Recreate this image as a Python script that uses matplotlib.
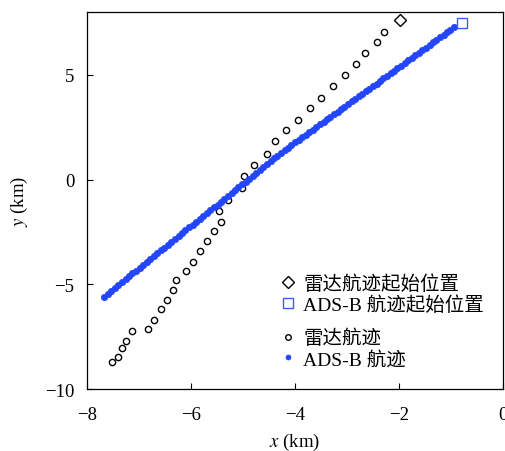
import matplotlib
matplotlib.use('Agg')
import matplotlib.pyplot as plt
from matplotlib.lines import Line2D

plt.rcParams['font.family'] = ['Liberation Serif', 'Noto Sans CJK SC']
plt.rcParams['mathtext.fontset'] = 'stix'
plt.rcParams['axes.unicode_minus'] = True

# radar track (km)
radar_x = [-7.52, -7.40, -7.32, -7.25, -7.13, -6.82, -6.71, -6.58, -6.46, -6.35,
           -6.28, -6.10, -5.97, -5.83, -5.70, -5.56, -5.43, -5.47, -5.28, -5.02,
           -4.98, -4.78, -4.53, -4.38, -4.17, -3.94, -3.72, -3.50, -3.27, -3.03,
           -2.83, -2.65, -2.42, -2.29]
radar_y = [-8.73, -8.46, -8.06, -7.70, -7.25, -7.14, -6.70, -6.19, -5.75, -5.29,
           -4.80, -4.38, -3.93, -3.41, -2.95, -2.44, -2.00, -1.51, -0.95, -0.40,
           0.19, 0.68, 1.24, 1.86, 2.35, 2.86, 3.40, 3.92, 4.48, 4.98,
           5.50, 6.05, 6.56, 7.05]
radar_start = (-1.99, 7.60)

# ADS-B track (km)
ads_x = [-7.67, -7.60, -7.53, -7.47, -7.40, -7.33, -7.26, -7.19, -7.13, -7.06,
         -6.99, -6.92, -6.85, -6.79, -6.72, -6.65, -6.58, -6.51, -6.45, -6.38,
         -6.31, -6.24, -6.17, -6.11, -6.04, -5.97, -5.90, -5.83, -5.77, -5.70,
         -5.63, -5.56, -5.49, -5.43, -5.36, -5.29, -5.22, -5.15, -5.09, -5.02,
         -4.95, -4.88, -4.81, -4.75, -4.68, -4.61, -4.54, -4.47, -4.41, -4.34,
         -4.27, -4.20, -4.13, -4.07, -4.00, -3.93, -3.86, -3.79, -3.73, -3.66,
         -3.59, -3.52, -3.45, -3.39, -3.32, -3.25, -3.18, -3.11, -3.05, -2.98,
         -2.91, -2.84, -2.77, -2.71, -2.64, -2.57, -2.50, -2.43, -2.37, -2.30,
         -2.23, -2.16, -2.09, -2.03, -1.96, -1.89, -1.82, -1.75, -1.69, -1.62,
         -1.55, -1.48, -1.41, -1.35, -1.28, -1.21, -1.14, -1.07, -1.01, -0.94]
ads_y = [-5.58, -5.44, -5.31, -5.17, -5.03, -4.89, -4.76, -4.62, -4.48, -4.34,
         -4.21, -4.07, -3.93, -3.79, -3.66, -3.52, -3.38, -3.25, -3.11, -2.97,
         -2.83, -2.70, -2.56, -2.42, -2.28, -2.15, -2.01, -1.87, -1.74, -1.60,
         -1.46, -1.32, -1.19, -1.05, -0.91, -0.77, -0.64, -0.50, -0.36, -0.22,
         -0.09, 0.05, 0.19, 0.33, 0.46, 0.60, 0.74, 0.88, 1.01, 1.15,
         1.29, 1.41, 1.53, 1.66, 1.78, 1.90, 2.03, 2.15, 2.27, 2.39,
         2.51, 2.64, 2.76, 2.88, 3.00, 3.13, 3.25, 3.37, 3.49, 3.62,
         3.74, 3.86, 3.98, 4.10, 4.23, 4.35, 4.47, 4.59, 4.72, 4.84,
         4.96, 5.08, 5.21, 5.33, 5.45, 5.57, 5.69, 5.82, 5.94, 6.06,
         6.18, 6.31, 6.43, 6.55, 6.67, 6.80, 6.92, 7.04, 7.16, 7.28]
ads_start = (-0.79, 7.46)

blue = '#2446fa'
sq_blue = '#3a5cff'

fig = plt.figure(figsize=(5.06, 4.52), dpi=100)
ax = fig.add_axes([0.172, 0.137, 0.822, 0.834])

ax.plot(radar_x, radar_y, 'o', ls='none', ms=4.5, mfc='white', mec='black', mew=1.0)
ax.plot(ads_x, ads_y, 'o', ls='none', ms=4.6, mfc=blue, mec=blue, mew=0.5)
ax.plot(*radar_start, 'D', ms=6.5, mfc='none', mec='black', mew=1.0)
ax.plot(*ads_start, 's', ms=7, mfc='none', mec=sq_blue, mew=1.0)

ax.set_xlim(-8, 0)
ax.set_ylim(-10, 8)
ax.set_xticks([-8, -6, -4, -2, 0])
ax.set_yticks([-10, -5, 0, 5])
ax.tick_params(direction='in', length=4, width=0.8, labelsize=13.5,
               top=False, right=False)
ax.tick_params(axis='x', pad=12)
ax.tick_params(axis='y', pad=9)
for s in ax.spines.values():
    s.set_linewidth(0.9)
ax.set_xlabel('$x$ (km)', fontsize=13.5, labelpad=6)
ax.set_ylabel('$y$ (km)', fontsize=13.5, labelpad=11)

h1 = [Line2D([], [], ls='none', marker='D', ms=6, mfc='none', mec='black', mew=1.0),
      Line2D([], [], ls='none', marker='s', ms=7, mfc='none', mec=sq_blue, mew=1.0)]
h2 = [Line2D([], [], ls='none', marker='o', ms=4, mfc='white', mec='black', mew=1.0),
      Line2D([], [], ls='none', marker='o', ms=3.6, mfc=blue, mec=blue, mew=0.5)]
leg_kw = dict(loc='upper left', frameon=False, fontsize=14, handlelength=0.8,
              handletextpad=0.4, labelspacing=0.15, borderaxespad=0)
leg1 = ax.legend(h1, ['雷达航迹起始位置', 'ADS-B 航迹起始位置'],
                 bbox_to_anchor=(0.445, 0.326), **leg_kw)
ax.add_artist(leg1)
ax.legend(h2, ['雷达航迹', 'ADS-B 航迹'],
          bbox_to_anchor=(0.445, 0.180), **leg_kw)

fig.savefig('out.png', dpi=100)
